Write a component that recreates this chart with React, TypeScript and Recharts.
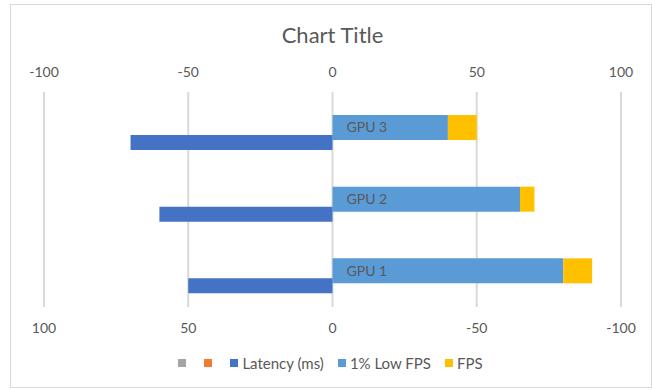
import React from 'react';
import { BarChart, Bar, XAxis, YAxis, CartesianGrid, Legend, LabelList } from 'recharts';

const gpus = ['GPU 1', 'GPU 2', 'GPU 3'];
const latencyMs = [50, 60, 70];
const lowFps = [80, 65, 40];
const fpsPart = [10, 5, 10];
const blankA: (number | null)[] = [null, null, null];
const blankB: (number | null)[] = [null, null, null];

const topTicks = [-100, -50, 0, 50, 100];

const data = gpus.map((gpu, i) => ({
  gpu,
  blankA: blankA[i],
  blankB: blankB[i],
  latency: latencyMs[i],
  low: lowFps[i],
  fps: fpsPart[i],
}));

const legendOrder = ['blankA', 'blankB', 'latency', 'low', 'fps'];
const legendNames: Record<string, string> = {
  blankA: '',
  blankB: '',
  latency: 'Latency (ms)',
  low: '1% Low FPS',
  fps: 'FPS',
};

const TEXT = '#595959';

const renderLegend = (props: any) => {
  const items = [...(props.payload || [])].sort(
    (a: any, b: any) => legendOrder.indexOf(a.dataKey) - legendOrder.indexOf(b.dataKey)
  );
  return (
    <div style={{ display: 'flex', justifyContent: 'center', alignItems: 'center', paddingLeft: 22 }}>
      {items.map((it: any) => (
        <div key={it.dataKey} style={{ display: 'flex', alignItems: 'center', marginRight: 14 }}>
          <span style={{ width: 8, height: 8, background: it.color, display: 'inline-block', marginRight: 4 }} />
          <span style={{ fontSize: 15, color: TEXT, lineHeight: '16px' }}>{legendNames[it.dataKey]}</span>
        </div>
      ))}
    </div>
  );
};

export default function App() {
  return (
    <div style={{ position: 'absolute', left: 0, top: 0, width: 653, height: 390, background: '#fff', fontFamily: 'Lato, sans-serif' }}>
      <div style={{ position: 'absolute', left: 10, top: 4, width: 642, height: 384, border: '1px solid #d9d9d9', boxSizing: 'border-box' }} />
      <div style={{ position: 'absolute', left: 0, top: 22, width: 665, textAlign: 'center', fontSize: 22, lineHeight: '26px', color: TEXT }}>
        Chart Title
      </div>
      <div style={{ position: 'absolute', left: 0, top: 0 }}>
        <BarChart
          width={653}
          height={390}
          data={data}
          layout="vertical"
          barGap={-5}
          margin={{ top: 62, right: 32, bottom: 53, left: 44 }}
        >
          <CartesianGrid xAxisId="top" yAxisId="p" horizontal={false} stroke="#d9d9d9" strokeWidth={2} />
          <XAxis
            xAxisId="top"
            orientation="top"
            type="number"
            domain={[-100, 100]}
            ticks={topTicks}
            interval={0}
            height={30}
            axisLine={false}
            tickLine={false}
            tickSize={0}
            tickMargin={15}
            tick={{ fill: TEXT, fontSize: 14 }}
          />
          <XAxis
            xAxisId="bottom"
            orientation="bottom"
            type="number"
            domain={[-100, 100]}
            ticks={topTicks}
            interval={0}
            reversed
            height={30}
            axisLine={false}
            tickLine={false}
            tickSize={0}
            tickMargin={16}
            tick={{ fill: TEXT, fontSize: 14 }}
          />
          <YAxis yAxisId="p" type="category" dataKey="gpu" reversed hide />
          <Legend
            verticalAlign="middle"
            align="center"
            content={renderLegend}
            wrapperStyle={{ top: 355, left: 0, width: 653 }}
          />
          <Bar dataKey="blankA" name=" " xAxisId="top" yAxisId="p" stackId="blank" barSize={15} fill="#A5A5A5" isAnimationActive={false} />
          <Bar dataKey="blankB" name=" " xAxisId="top" yAxisId="p" stackId="blank" barSize={15} fill="#ED7D31" isAnimationActive={false} />
          <Bar dataKey="low" name="1% Low FPS" xAxisId="top" yAxisId="p" stackId="fps" barSize={25} fill="#5B9BD5" isAnimationActive={false}>
            <LabelList dataKey="gpu" position="insideLeft" offset={14} fill={TEXT} fontSize={14} />
          </Bar>
          <Bar dataKey="fps" name="FPS" xAxisId="top" yAxisId="p" stackId="fps" barSize={25} fill="#FFC000" isAnimationActive={false} />
          <Bar dataKey="latency" name="Latency (ms)" xAxisId="bottom" yAxisId="p" barSize={15} fill="#4472C4" isAnimationActive={false} />
        </BarChart>
      </div>
    </div>
  );
}
